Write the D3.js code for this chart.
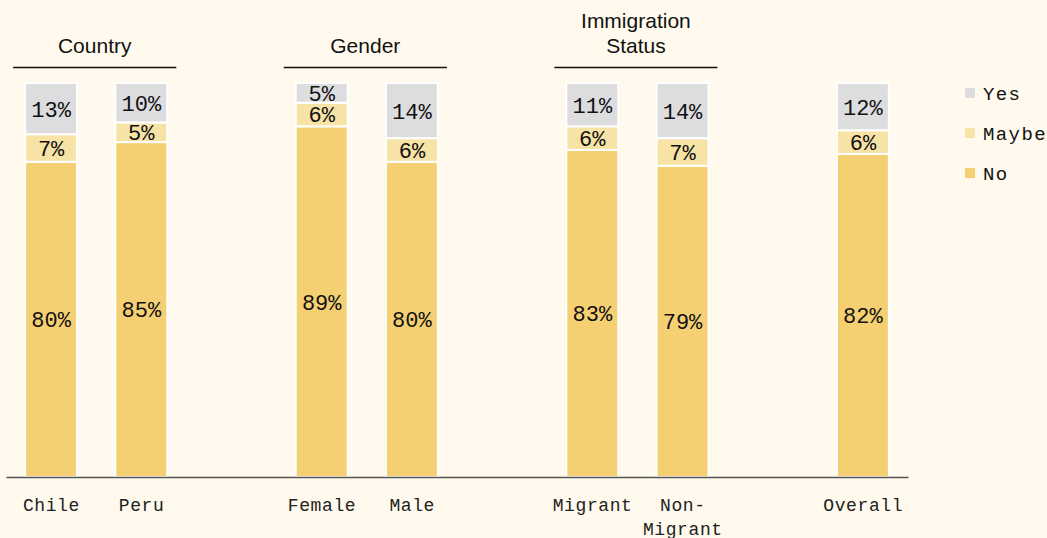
<!DOCTYPE html>
<html><head><meta charset="utf-8">
<script src="https://cdn.jsdelivr.net/npm/d3@7"></script>
<style>
body{margin:0;background:#fffaed;}
svg{display:block;}
</style></head><body>
<svg id="chart" width="1047" height="538"></svg>
<script>
const categories = ["Chile","Peru","Female","Male","Migrant","Non-Migrant","Overall"];
const slots = ["Chile","Peru","_g1","Female","Male","_g2","Migrant","Non-Migrant","_g3","Overall"];
const noValues = [80,85,89,80,83,79,82];
const maybeValues = [7,5,6,6,6,7,6];
const yesValues = [13,10,5,14,11,14,12];
const seriesNames = ["No","Maybe","Yes"];
const legendOrder = ["Yes","Maybe","No"];
const groups = [
  {name:["Country"], members:["Chile","Peru"]},
  {name:["Gender"], members:["Female","Male"]},
  {name:["Immigration","Status"], members:["Migrant","Non-Migrant"]}
];
const axisLabels = {"Chile":["Chile"],"Peru":["Peru"],"Female":["Female"],"Male":["Male"],"Migrant":["Migrant"],"Non-Migrant":["Non-","Migrant"],"Overall":["Overall"]};
const colors = {"No":"#f5d073","Maybe":"#f8e3a6","Yes":"#dddde0"};

const rows = categories.map((c,i)=>({cat:c, No:noValues[i], Maybe:maybeValues[i], Yes:yesValues[i]}));
const stack = d3.stack().keys(seriesNames)(rows);

const svg = d3.select("#chart");
const x = d3.scaleBand().domain(slots).range([6,908]).paddingInner(0.424).paddingOuter(0.212);
const y = d3.scaleLinear().domain([0,100]).range([477,83]);
const mono = "'Liberation Mono', 'DejaVu Sans Mono', monospace";
const sans = "'Liberation Sans', Arial, sans-serif";

const layer = svg.selectAll("g.layer").data(stack).join("g").attr("class","layer")
  .attr("fill", d=>colors[d.key]);
layer.selectAll("rect").data(d=>d.map(v=>({v, key:d.key}))).join("rect")
  .attr("x", d=>x(d.v.data.cat))
  .attr("width", x.bandwidth())
  .attr("y", d=>y(d.v[1]))
  .attr("height", d=>y(d.v[0])-y(d.v[1]))
  .attr("stroke","#ffffff").attr("stroke-width",2);

layer.selectAll("text").data(d=>d.map(v=>({v, key:d.key}))).join("text")
  .attr("x", d=>x(d.v.data.cat)+x.bandwidth()/2)
  .attr("y", d=>(y(d.v[0])+y(d.v[1]))/2)
  .attr("dy","0.36em")
  .attr("text-anchor","middle")
  .attr("fill","#111")
  .style("font-family",mono).style("font-size","22px")
  .text(d=>d.v.data[d.key]+"%");

// axis
const axis = d3.axisBottom(x).tickSize(0).tickFormat("");
const ag = svg.append("g").attr("transform","translate(0,477)").call(axis);
ag.select(".domain").attr("stroke","#555").attr("stroke-width",1.3);
ag.selectAll(".tick").remove();
categories.forEach(c=>{
  const cx = x(c)+x.bandwidth()/2 + 0.3;
  const t = svg.append("text").attr("x", cx).attr("y",511)
    .attr("text-anchor","middle").attr("fill","#222")
    .style("font-family",mono).style("font-size","18px").style("letter-spacing","0.6px");
  axisLabels[c].forEach((line,i)=>t.append("tspan").attr("x", cx).attr("dy", i===0?0:24).text(line));
});

// group headers
groups.forEach(g=>{
  const x0 = x(g.members[0]) - 12;
  const x1 = x(g.members[g.members.length-1]) + x.bandwidth() + 9;
  svg.append("line").attr("x1",x0).attr("x2",x1).attr("y1",67.5).attr("y2",67.5)
    .attr("stroke","#111").attr("stroke-width",1.3);
  const n = g.name.length;
  g.name.forEach((line,i)=>{
    svg.append("text").attr("x",(x0+x1)/2).attr("y",53-(n-1-i)*25)
      .attr("text-anchor","middle").attr("fill","#111")
      .style("font-family",sans).style("font-size","21px").text(line);
  });
});

// legend
const lg = svg.append("g").attr("transform","translate(965,0)");
legendOrder.forEach((k,i)=>{
  const cy = 93 + i*40;
  lg.append("rect").attr("x",0).attr("y",cy-5).attr("width",10).attr("height",10).attr("fill",colors[k]);
  lg.append("text").attr("x",18).attr("y",cy).attr("dy","0.36em").attr("fill","#111")
    .style("font-family",mono).style("font-size","19px").style("letter-spacing","1.4px").text(k);
});
</script>
</body></html>
